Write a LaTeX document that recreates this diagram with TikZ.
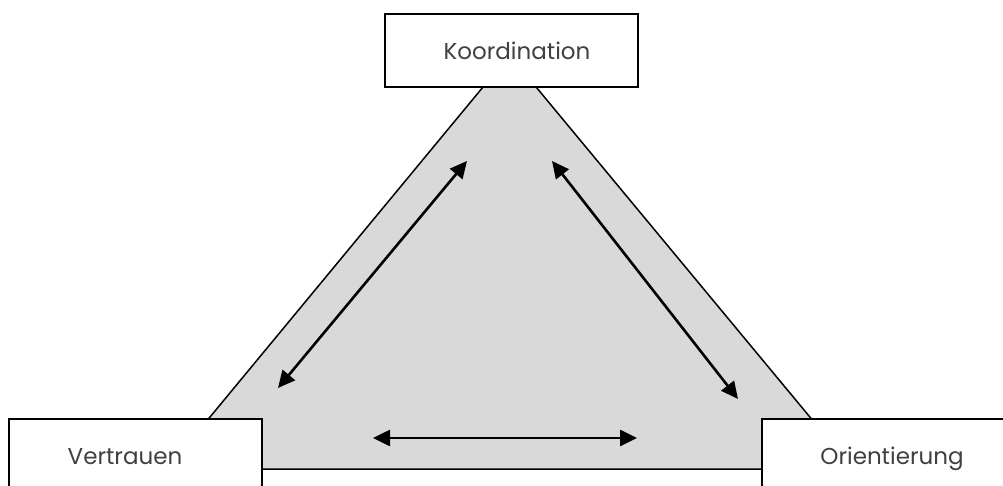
\documentclass[tikz,border=0pt]{standalone}
\usepackage{fontspec}
\setmainfont{Poppins}
\usetikzlibrary{arrows.meta}
\definecolor{fieldgray}{HTML}{D9D9D9}
\definecolor{labelgray}{HTML}{404040}
\tikzset{
  conceptbox/.style={draw=black, line width=2pt, fill=white, minimum width=253pt, minimum height=73pt, inner sep=0pt},
  conceptlabel/.style={text=labelgray, font=\fontsize{23}{27}\selectfont, anchor=base, inner sep=0pt},
  relation/.style={line width=2.6pt, {Triangle[length=17pt,width=16pt]}-{Triangle[length=17pt,width=16pt]}},
}
\begin{document}
\begin{tikzpicture}[x=1pt,y=-1pt]
  \useasboundingbox (0,0) rectangle (1003,486);
  \clip (0,0) rectangle (1003,486);
  % shaded triangle behind the three boxes
  \coordinate (apex) at (509.5,55);
  \coordinate (baseL) at (167,469);
  \coordinate (baseR) at (853,469);
  \draw[fill=fieldgray, line width=1.5pt, line join=miter] (apex) -- (baseL) -- (baseR) -- cycle;
  % boxes at the corners
  \node[conceptbox] (koord) at (511,50.5) {};
  \node[conceptbox] (vert) at (135.5,455.5) {};
  \node[conceptbox] (orient) at (888.5,455.5) {};
  \node[conceptlabel] (koordtxt) at (517,60) {Koordination};
  \node[conceptlabel] (verttxt) at (125,464) {Vertrauen};
  \node[conceptlabel] (orienttxt) at (892,464) {Orientierung};
  % mutual relations
  \coordinate (kl) at (467,161);
  \coordinate (vk) at (278,388);
  \coordinate (kr) at (552,161);
  \coordinate (ok) at (738,399);
  \coordinate (vo) at (373,438);
  \coordinate (ov) at (637,438);
  \draw[relation] (vk) -- (kl);
  \draw[relation] (kr) -- (ok);
  \draw[relation] (vo) -- (ov);
\end{tikzpicture}
\end{document}
